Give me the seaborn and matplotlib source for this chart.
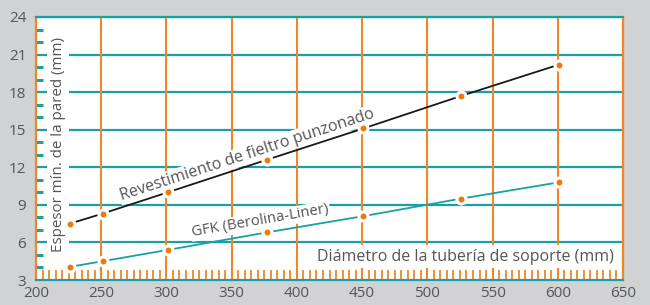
import matplotlib
matplotlib.use("Agg")
import matplotlib.pyplot as plt
import seaborn as sns
import pandas as pd
import numpy as np
from matplotlib.ticker import MultipleLocator

# Data
diam_felt = [226, 251, 301, 377, 451, 526, 601]
felt_thickness = [7.5, 8.3, 10.0, 12.6, 15.1, 17.7, 20.2]
diam_gfk = [226, 251, 301, 377, 451, 526, 601]
gfk_thickness = [4.05, 4.5, 5.4, 6.8, 8.1, 9.5, 10.8]
x_ticks = [200, 250, 300, 350, 400, 450, 500, 550, 600, 650]
y_ticks = [3, 6, 9, 12, 15, 18, 21, 24]

label_felt = "Revestimiento de fieltro punzonado"
label_gfk = "GFK (Berolina-Liner)"
xlabel = "Diámetro de la tubería de soporte (mm)"
ylabel = "Espesor mín. de la pared (mm)"

plt.rcParams['font.family'] = ['Open Sans', 'DejaVu Sans']
plt.rcParams['font.style'] = 'normal'

TEAL = "#18a0a6"
ORANGE = "#f0862a"
DOT = "#ee7a0c"
GRAY = "#555555"
BG = "#d1d2d4"

fig = plt.figure(figsize=(6.5, 3.05), dpi=100, facecolor=BG)
ax = fig.add_axes([36/650, 25/305, 587/650, 263/305])
ax.set_facecolor("white")

ax.set_xlim(200, 650)
ax.set_ylim(3, 24)

for y in y_ticks[1:]:
    ax.axhline(y, color=TEAL, lw=1.6, zorder=1)
for x in x_ticks[1:-1]:
    ax.axvline(x, color=ORANGE, lw=1.5, zorder=1.2)

df1 = pd.DataFrame({"d": diam_felt, "t": felt_thickness})
df2 = pd.DataFrame({"d": diam_gfk, "t": gfk_thickness})
sns.lineplot(data=df1, x="d", y="t", ax=ax, color="#1a1a1a", lw=1.3,
             marker="o", markersize=6.5, markerfacecolor=DOT,
             markeredgecolor="white", markeredgewidth=2.2, zorder=4)
sns.lineplot(data=df2, x="d", y="t", ax=ax, color=TEAL, lw=1.3,
             marker="o", markersize=6.5, markerfacecolor=DOT,
             markeredgecolor="white", markeredgewidth=2.2, zorder=4)

tk = dict(color=GRAY, fontstyle="normal", fontweight="normal", zorder=3)
box = dict(facecolor="white", edgecolor="none", pad=1.0)
ax.text(362, 13.0, label_felt, rotation=18.1, rotation_mode="anchor",
        ha="center", va="center", fontsize=11.5, bbox=box, **tk)
ax.text(372, 7.7, label_gfk, rotation=9.8, rotation_mode="anchor",
        ha="center", va="center", fontsize=10.7, bbox=box, **tk)
ax.text(643, 4.85, xlabel, ha="right", va="center", fontsize=11.5,
        bbox=dict(facecolor="white", edgecolor="none", pad=2.5), **tk)
ax.text(217, 13.8, ylabel, rotation=90, ha="center", va="center",
        fontsize=10.9, bbox=dict(facecolor="white", edgecolor="none", pad=2.5), **tk)

ax.set_xlabel("")
ax.set_ylabel("")
ax.set_xticks(x_ticks)
ax.set_yticks(y_ticks)
ax.xaxis.set_minor_locator(MultipleLocator(5))
ax.yaxis.set_minor_locator(MultipleLocator(1))
ax.tick_params(axis="both", which="major", length=0, labelsize=11,
               labelcolor=GRAY)
ax.tick_params(axis="x", which="major", pad=4)
ax.tick_params(axis="y", which="major", pad=7)
ax.tick_params(axis="x", which="minor", direction="in", length=7,
               width=1.3, color=ORANGE, bottom=True)
ax.tick_params(axis="y", which="minor", direction="in", length=5,
               width=2.2, color=TEAL, left=True)

for side in ["left", "right"]:
    ax.spines[side].set_color(ORANGE)
    ax.spines[side].set_linewidth(1.6)
for side in ["top", "bottom"]:
    ax.spines[side].set_color(TEAL)
    ax.spines[side].set_linewidth(1.6)
for s in ax.spines.values():
    s.set_zorder(5)

fig.savefig("out.png", dpi=100, facecolor=BG)
